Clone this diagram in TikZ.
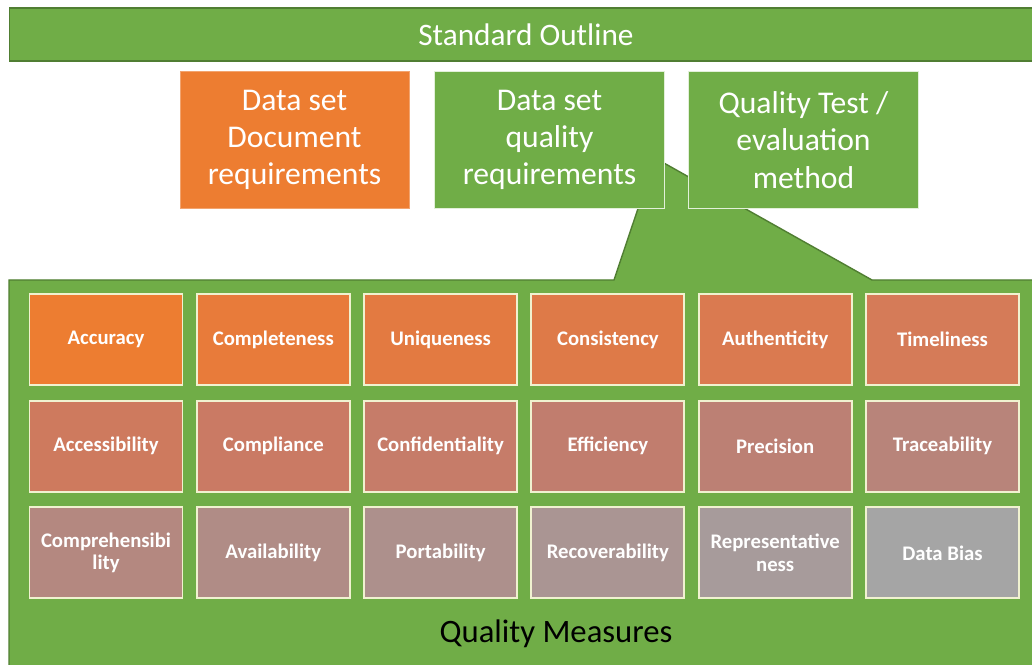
\documentclass[tikz,border=0pt]{standalone}
\usepackage{fontspec}
\setmainfont{Carlito}
\usetikzlibrary{positioning}

\definecolor{officegreen}{RGB}{112,173,71}
\definecolor{darkgreen}{RGB}{80,126,50}
\definecolor{officeorange}{RGB}{237,125,49}
\definecolor{paleedge}{RGB}{226,240,217}
\definecolor{creamedge}{RGB}{240,242,208}
\definecolor{qm0}{RGB}{237,125,49}
\definecolor{qm1}{RGB}{232,123,58}
\definecolor{qm2}{RGB}{227,122,65}
\definecolor{qm3}{RGB}{222,122,72}
\definecolor{qm4}{RGB}{218,122,80}
\definecolor{qm5}{RGB}{213,123,88}
\definecolor{qm6}{RGB}{206,122,94}
\definecolor{qm7}{RGB}{202,122,100}
\definecolor{qm8}{RGB}{198,124,105}
\definecolor{qm9}{RGB}{193,125,110}
\definecolor{qm10}{RGB}{188,128,116}
\definecolor{qm11}{RGB}{184,132,122}
\definecolor{qm12}{RGB}{180,136,128}
\definecolor{qm13}{RGB}{176,140,134}
\definecolor{qm14}{RGB}{173,144,140}
\definecolor{qm15}{RGB}{170,149,147}
\definecolor{qm16}{RGB}{167,155,155}
\definecolor{qm17}{RGB}{165,165,165}

\begin{document}
\begin{tikzpicture}
  [x=0.02cm,y=-0.02cm,
  headbox/.style={draw=paleedge,line width=0.9pt,fill=officegreen,text=white,
    minimum width=4.6cm,minimum height=2.74cm,inner sep=0pt,align=center,
    font=\fontsize{18}{21.2}\selectfont},
  measure/.style={draw=creamedge,line width=1.1pt,text=white,
    minimum width=3.06cm,minimum height=1.82cm,inner sep=0pt,align=center,
    font=\bfseries\fontsize{11.8}{13}\selectfont}]
  \useasboundingbox[fill=white] (0,0) rectangle (1032,665);
  \node[draw=darkgreen,line width=0.8pt,fill=officegreen,
    minimum width=20.7cm,minimum height=1.06cm,anchor=west] (outline) at (9,34.5) {};
  \node[text=white,font=\fontsize{17.8}{20}\selectfont] (outlinetext) at (526,35) {Standard Outline};
  \draw[darkgreen,line width=0.8pt,fill=officegreen] (9,720) -- (9,280) -- (614,280)
    -- (655,158) -- (872,280) -- (1045,280) -- (1045,720) -- cycle;
  \node[headbox,draw=officeorange!70!white,line width=0.4pt,fill=officeorange,minimum width=4.58cm] (docreq) at (294.5,140) {Data set\\Document\\requirements};
  \node[headbox] (qualreq) at (549.5,140) {Data set\\quality\\requirements};
  \node[headbox] (testeval) at (803.5,140) {Quality Test /\\evaluation\\method};
  \foreach \txt [count=\i from 0] in {Accuracy,Completeness,Uniqueness,Consistency,
    Authenticity,Timeliness,Accessibility,Compliance,Confidentiality,Efficiency,
    Precision,Traceability,{Comprehensibi\\lity},Availability,Portability,
    Recoverability,{Representative\\ness},Data Bias}
  {
    \pgfmathtruncatemacro{\col}{mod(\i,6)}
    \pgfmathtruncatemacro{\row}{\i/6}
    \node[measure,fill=qm\i] (m\i) at (106+167.3*\col,339.5+106.7*\row) {\txt};
  }
  \node[font=\fontsize{18.6}{20}\selectfont] (qmeasures) at (556,634) {Quality Measures};
\end{tikzpicture}
\end{document}
